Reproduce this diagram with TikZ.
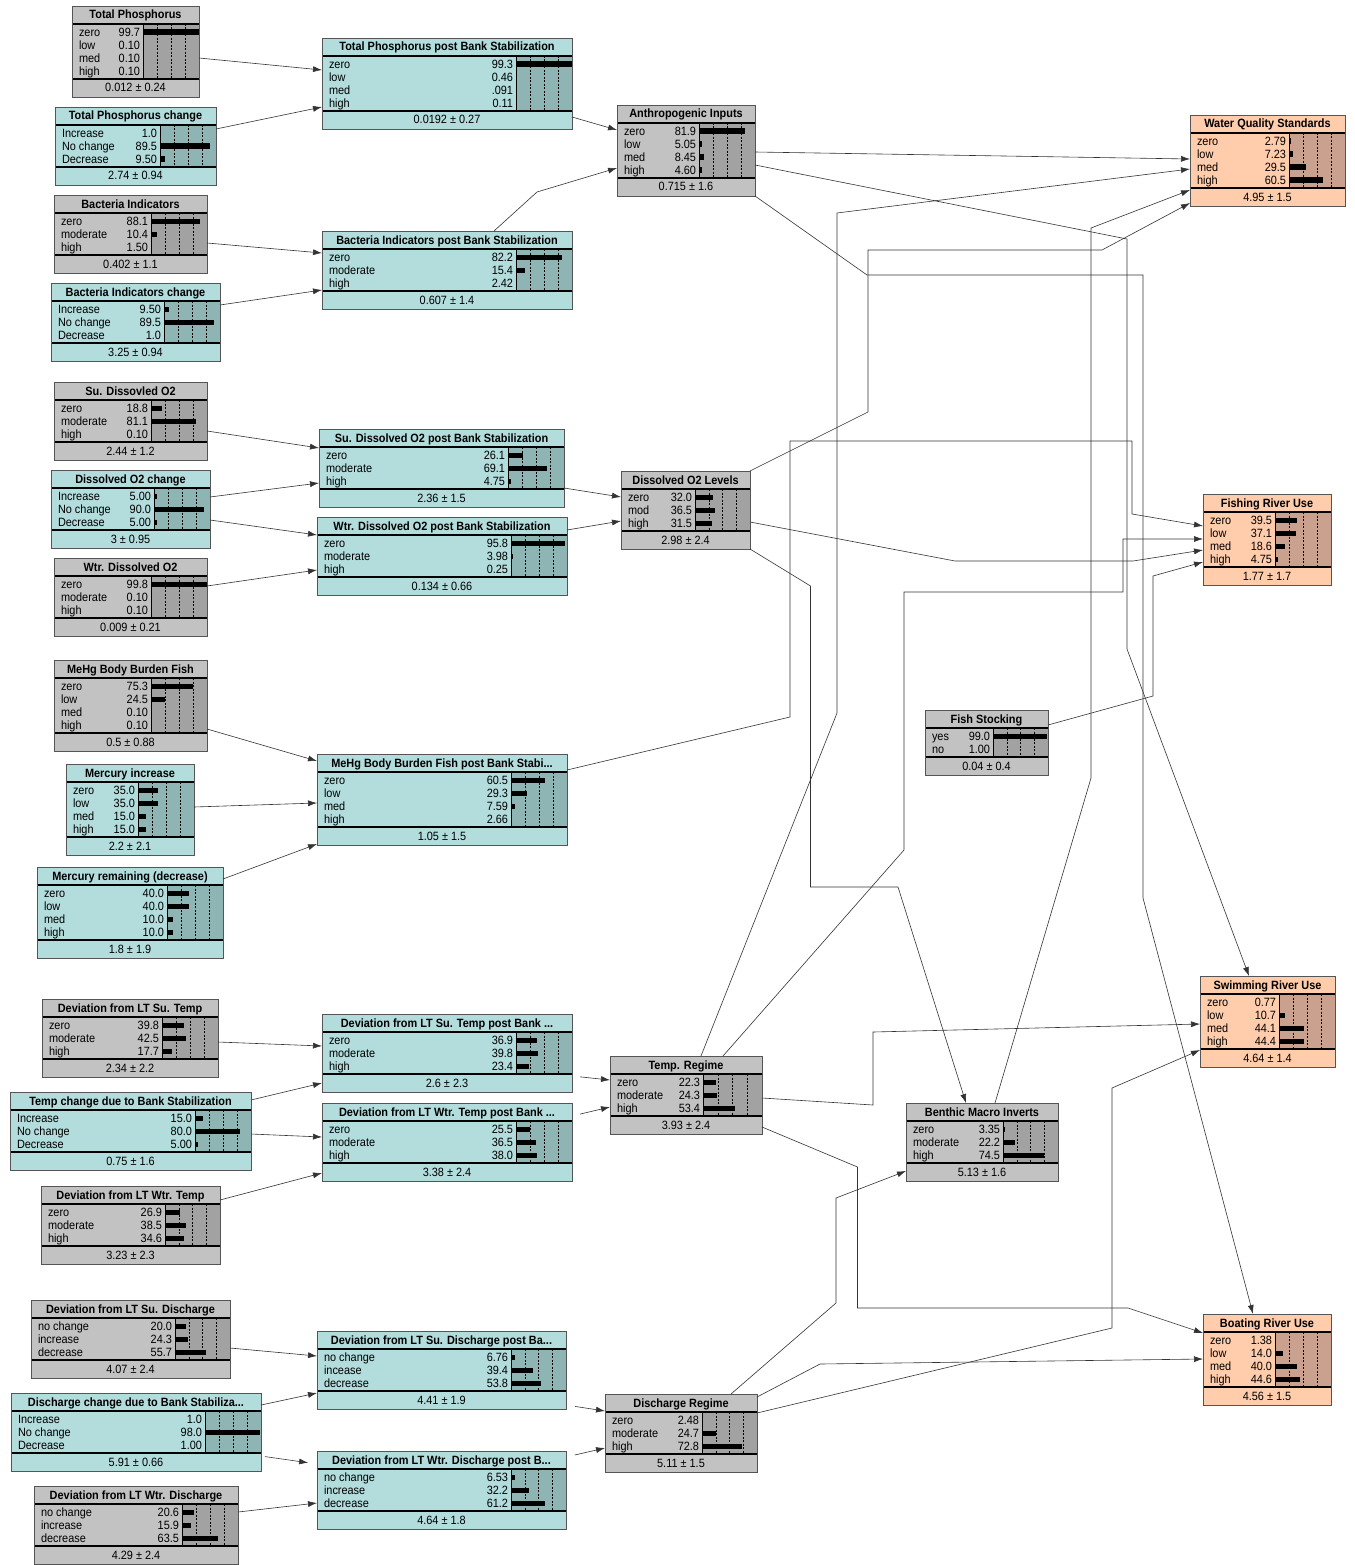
\documentclass[tikz,border=0pt]{standalone}
\usepackage{fontspec}
\setmainfont[FakeStretch=0.91]{Liberation Sans}
\usetikzlibrary{arrows.meta,calc}

\definecolor{gbase}{HTML}{C2C2C2}
\definecolor{gdark}{HTML}{A2A2A2}
\definecolor{tbase}{HTML}{B3DCDC}
\definecolor{tdark}{HTML}{8FB4B4}
\definecolor{sbase}{HTML}{FFCCAC}
\definecolor{sdark}{HTML}{C9A18E}
\definecolor{bxframe}{HTML}{555555}

\tikzset{
  arr/.style={draw=black!80, line width=0.6pt, -{Latex[length=9pt,width=6pt]}},
  dashln/.style={black, line width=0.5pt, dash pattern=on 2pt off 1.5pt},
  every node/.style={font=\fontsize{12}{13}\selectfont, inner sep=0pt, outer sep=0pt},
}

\newcount\bnrows
% #1 name #2 x0 #3 y0 #4 x1 #5 bar-left #6 scheme #7 title #8 mean #9 rows
\newcommand{\bnode}[9]{%
  \global\bnrows=0
  \foreach \z in {#9}{\global\advance\bnrows by 1}
  \pgfmathsetmacro{\yTl}{#3+18}
  \pgfmathsetmacro{\yTb}{#3+21+13*\the\bnrows}
  \pgfmathsetmacro{\yBt}{\yTb+18}
  \pgfmathsetmacro{\bW}{#4-#2}
  \pgfmathsetmacro{\bH}{\yBt-#3}
  \pgfmathsetmacro{\xM}{(#2+#4)/2}
  \fill[#6base] (#2,#3) rectangle (#4,\yBt);
  \fill[#6dark] (#5,\yTl) rectangle (#4,\yTb);
  \foreach \f in {0.25,0.5,0.75}{
    \draw[dashln] ({#5+\f*(#4-#5)},\yTl) -- ({#5+\f*(#4-#5)},\yTb);}
  \draw[black, line width=0.5pt] (#5,\yTl) -- (#5,\yTb);
  \draw[black, line width=1.4pt] (#2,\yTl) -- (#4,\yTl) (#2,\yTb) -- (#4,\yTb);
  \node[anchor=base, font=\fontsize{12}{13}\selectfont\bfseries] at (\xM,\yTl-5) {#7};
  \node[anchor=base] at (\xM,\yBt-5) {#8};
  \foreach \lbl/\val/\num [count=\i] in {#9}{
    \pgfmathsetmacro{\yR}{\yTl+8+13*(\i-1)}
    \node[anchor=base west] at (#2+7,\yR+4.5) {\lbl};
    \node[anchor=base east] at (#5-3,\yR+4.5) {\val};
    \fill[black] (#5,\yR-2.5) rectangle ({#5+\num/100*(#4-#5)},\yR+3);
  }
  \node[draw=bxframe, line width=0.7pt, minimum width=\bW pt, minimum height=\bH pt, anchor=north west] (#1) at (#2,#3) {};
}

\begin{document}
\begin{tikzpicture}[x=1pt,y=-1pt]
\useasboundingbox (0,0) rectangle (1354,1565);
\fill[white] (0,0) rectangle (1354,1565);

% ---- left column ----
\bnode{TP}{72}{6}{199}{143}{g}{Total Phosphorus}{0.012 ± 0.24}{zero/99.7/99.7, low/0.10/0.10, med/0.10/0.10, high/0.10/0.10}
\bnode{TPc}{55}{107}{216}{160}{t}{Total Phosphorus change}{2.74 ± 0.94}{Increase/1.0/1.0, No change/89.5/89.5, Decrease/9.50/9.50}
\bnode{BI}{54}{195}{207}{151}{g}{Bacteria Indicators}{0.402 ± 1.1}{zero/88.1/88.1, moderate/10.4/10.4, high/1.50/1.50}
\bnode{BIc}{51}{283}{220}{164}{t}{Bacteria Indicators change}{3.25 ± 0.94}{Increase/9.50/9.50, No change/89.5/89.5, Decrease/1.0/1.0}
\bnode{SDO}{54}{382}{207}{151}{g}{Su. Dissovled O2}{2.44 ± 1.2}{zero/18.8/18.8, moderate/81.1/81.1, high/0.10/0.10}
\bnode{DOc}{51}{470}{210}{154}{t}{Dissolved O2 change}{3 ± 0.95}{Increase/5.00/5.00, No change/90.0/90.0, Decrease/5.00/5.00}
\bnode{WDO}{54}{558}{207}{151}{g}{Wtr. Dissolved O2}{0.009 ± 0.21}{zero/99.8/99.8, moderate/0.10/0.10, high/0.10/0.10}
\bnode{MeHg}{54}{660}{207}{151}{g}{MeHg Body Burden Fish}{0.5 ± 0.88}{zero/75.3/75.3, low/24.5/24.5, med/0.10/0.10, high/0.10/0.10}
\bnode{Hgi}{66}{764}{194}{138}{t}{Mercury increase}{2.2 ± 2.1}{zero/35.0/35.0, low/35.0/35.0, med/15.0/15.0, high/15.0/15.0}
\bnode{Hgr}{37}{867}{223}{167}{t}{Mercury remaining (decrease)}{1.8 ± 1.9}{zero/40.0/40.0, low/40.0/40.0, med/10.0/10.0, high/10.0/10.0}
\bnode{DST}{42}{999}{218}{162}{g}{Deviation from LT Su. Temp}{2.34 ± 2.2}{zero/39.8/39.8, moderate/42.5/42.5, high/17.7/17.7}
\bnode{TC}{10}{1092}{251}{195}{t}{Temp change due to Bank Stabilization}{0.75 ± 1.6}{Increase/15.0/15.0, No change/80.0/80.0, Decrease/5.00/5.00}
\bnode{DWT}{41}{1186}{220}{165}{g}{Deviation from LT Wtr. Temp}{3.23 ± 2.3}{zero/26.9/26.9, moderate/38.5/38.5, high/34.6/34.6}
\bnode{DSD}{31}{1300}{230}{175}{g}{Deviation from LT Su. Discharge}{4.07 ± 2.4}{no change/20.0/20.0, increase/24.3/24.3, decrease/55.7/55.7}
\bnode{DC}{11}{1393}{261}{205}{t}{Discharge change due to Bank Stabiliza...}{5.91 ± 0.66}{Increase/1.0/1.0, No change/98.0/98.0, Decrease/1.00/1.00}
\bnode{DWD}{34}{1486}{238}{182}{g}{Deviation from LT Wtr. Discharge}{4.29 ± 2.4}{no change/20.6/20.6, increase/15.9/15.9, decrease/63.5/63.5}

% ---- middle column ----
\bnode{TPp}{322}{38}{572}{516}{t}{Total Phosphorus post Bank Stabilization}{0.0192 ± 0.27}{zero/99.3/99.3, low/0.46/0.46, med/.091/0.091, high/0.11/0.11}
\bnode{BIp}{322}{231}{572}{516}{t}{Bacteria Indicators post Bank Stabilization}{0.607 ± 1.4}{zero/82.2/82.2, moderate/15.4/15.4, high/2.42/2.42}
\bnode{SDOp}{319}{429}{564}{508}{t}{Su. Dissolved O2 post Bank Stabilization}{2.36 ± 1.5}{zero/26.1/26.1, moderate/69.1/69.1, high/4.75/4.75}
\bnode{WDOp}{317}{517}{567}{511}{t}{Wtr. Dissolved O2 post Bank Stabilization}{0.134 ± 0.66}{zero/95.8/95.8, moderate/3.98/3.98, high/0.25/0.25}
\bnode{MeHgp}{317}{754}{567}{511}{t}{MeHg Body Burden Fish post Bank Stabi...}{1.05 ± 1.5}{zero/60.5/60.5, low/29.3/29.3, med/7.59/7.59, high/2.66/2.66}
\bnode{STp}{322}{1014}{572}{516}{t}{Deviation from LT Su. Temp post Bank ...}{2.6 ± 2.3}{zero/36.9/36.9, moderate/39.8/39.8, high/23.4/23.4}
\bnode{WTp}{322}{1103}{572}{516}{t}{Deviation from LT Wtr. Temp post Bank ...}{3.38 ± 2.4}{zero/25.5/25.5, moderate/36.5/36.5, high/38.0/38.0}
\bnode{SDp}{317}{1331}{566}{511}{t}{Deviation from LT Su. Discharge post Ba...}{4.41 ± 1.9}{no change/6.76/6.76, incease/39.4/39.4, decrease/53.8/53.8}
\bnode{WDp}{317}{1451}{566}{511}{t}{Deviation from LT Wtr. Discharge post B...}{4.64 ± 1.8}{no change/6.53/6.53, increase/32.2/32.2, decrease/61.2/61.2}

% ---- regimes ----
\bnode{AI}{617}{105}{755}{699}{g}{Anthropogenic Inputs}{0.715 ± 1.6}{zero/81.9/81.9, low/5.05/5.05, med/8.45/8.45, high/4.60/4.60}
\bnode{DOL}{621}{471}{750}{695}{g}{Dissolved O2 Levels}{2.98 ± 2.4}{zero/32.0/32.0, mod/36.5/36.5, high/31.5/31.5}
\bnode{TR}{610}{1056}{762}{703}{g}{Temp. Regime}{3.93 ± 2.4}{zero/22.3/22.3, moderate/24.3/24.3, high/53.4/53.4}
\bnode{DR}{605}{1394}{757}{702}{g}{Discharge Regime}{5.11 ± 1.5}{zero/2.48/2.48, moderate/24.7/24.7, high/72.8/72.8}
\bnode{FS}{925}{710}{1048}{993}{g}{Fish Stocking}{0.04 ± 0.4}{yes/99.0/99.0, no/1.00/1.00}
\bnode{BMI}{906}{1103}{1058}{1003}{g}{Benthic Macro Inverts}{5.13 ± 1.6}{zero/3.35/3.35, moderate/22.2/22.2, high/74.5/74.5}

% ---- uses ----
\bnode{WQS}{1190}{115}{1345}{1289}{s}{Water Quality Standards}{4.95 ± 1.5}{zero/2.79/2.79, low/7.23/7.23, med/29.5/29.5, high/60.5/60.5}
\bnode{FRU}{1203}{494}{1331}{1275}{s}{Fishing River Use}{1.77 ± 1.7}{zero/39.5/39.5, low/37.1/37.1, med/18.6/18.6, high/4.75/4.75}
\bnode{SRU}{1200}{976}{1335}{1279}{s}{Swimming River Use}{4.64 ± 1.4}{zero/0.77/0.77, low/10.7/10.7, med/44.1/44.1, high/44.4/44.4}
\bnode{BRU}{1203}{1314}{1331}{1275}{s}{Boating River Use}{4.56 ± 1.5}{zero/1.38/1.38, low/14.0/14.0, med/40.0/40.0, high/44.6/44.6}

% ---- connectors ----
\draw[arr] (TP.east |- 0,58) -- (TPp.west |- 0,70);
\draw[arr] (TPc.east |- 0,129) -- (TPp.west |- 0,107);
\draw[arr] (BI.east |- 0,243) -- (BIp.west |- 0,253);
\draw[arr] (BIc.east |- 0,305) -- (BIp.west |- 0,290);
\draw[arr] (TPp.east |- 0,117) -- (AI.west |- 0,130);
\draw[arr] (BIp.north -| 494,0) -- (537,192) -- (AI.west |- 0,168);

\draw[arr] (SDO.east |- 0,431) -- (SDOp.west |- 0,448);
\draw[arr] (DOc.east |- 0,497) -- (SDOp.west |- 0,483);
\draw[arr] (DOc.east |- 0,520) -- (WDOp.west |- 0,535);
\draw[arr] (WDO.east |- 0,586) -- (WDOp.west |- 0,570);
\draw[arr] (SDOp.east |- 0,488) -- (DOL.west |- 0,497);
\draw[arr] (WDOp.east |- 0,530) -- (DOL.west |- 0,521);

\draw[arr] (MeHg.east |- 0,729) -- (MeHgp.west |- 0,761);
\draw[arr] (Hgi.east |- 0,807) -- (MeHgp.west |- 0,803);
\draw[arr] (Hgr.east |- 0,879) -- (MeHgp.west |- 0,844);

\draw[arr] (DST.east |- 0,1042) -- (STp.west |- 0,1046);
\draw[arr] (TC.east |- 0,1100) -- (STp.west |- 0,1083);
\draw[arr] (TC.east |- 0,1134) -- (WTp.west |- 0,1137);
\draw[arr] (DWT.east |- 0,1200) -- (WTp.west |- 0,1173);
\draw[arr, shorten <=8pt] (STp.east |- 0,1076) -- (TR.west |- 0,1080);
\draw[arr, shorten <=8pt] (WTp.east |- 0,1116) -- (TR.west |- 0,1107);

\draw[arr] (DSD.east |- 0,1348) -- (SDp.west |- 0,1356);
\draw[arr] (DC.east |- 0,1405) -- (SDp.west |- 0,1393);
\draw[arr, shorten <=4pt, shorten >=9pt] (DC.east |- 0,1456) -- (WDp.west |- 0,1464);
\draw[arr] (DWD.east |- 0,1512) -- (WDp.west |- 0,1503);
\draw[arr, shorten <=9pt] (SDp.east |- 0,1405) -- (DR.west |- 0,1411);
\draw[arr, shorten <=9pt] (WDp.east |- 0,1457) -- (DR.west |- 0,1448);

% to Water Quality Standards
\draw[arr] (AI.east |- 0,152) -- (WQS.west |- 0,159);
\draw[arr] (TR.north -| 701,0) -- (837,713) -- (837,213) -- (WQS.west |- 0,169);
\draw[arr] (BMI.north -| 995,0) -- (1091,778) -- (1091,228) -- (WQS.west |- 0,190);
\draw[arr] (DOL.north east) -- (868,412) -- (868,250) -- (1102,250) -- (WQS.west |- 0,203);

% to Fishing River Use
\draw[arr] (MeHgp.east |- 0,770) -- (790,717) -- (790,441) -- (1132,441) -- (1132,514) -- (FRU.west |- 0,526);
\draw[arr] (TR.north -| 723,0) -- (904,850) -- (904,592) -- (1123,592) -- (1123,539) -- (FRU.west |- 0,539);
\draw[arr] (DOL.east |- 0,522) -- (955,561) -- (1133,561) -- (FRU.west |- 0,550);
\draw[arr] (FS.east |- 0,725) -- (1153,696) -- (1153,576) -- (FRU.west |- 0,562);

% to Benthic
\draw[arr] (DOL.south east) -- (810.5,586) -- (810.5,887) -- (898,887) -- (BMI.north -| 966,0);
\draw[arr] (DR.north -| 731,0) -- (836,1303) -- (836,1198) -- (BMI.west |- 0,1171);

% to Swimming River Use
\draw[arr] (AI.east |- 0,165) -- (1127,239) -- (1127,649) -- (SRU.north -| 1249,0);
\draw[arr] (TR.east |- 0,1098) -- (873,1105) -- (873,1032) -- (SRU.west |- 0,1024);
\draw[arr] (DR.east |- 0,1413) -- (1112,1328) -- (1112,1088) -- (SRU.west |- 0,1050);

% to Boating River Use
\draw[arr] (AI.south east) -- (867,275) -- (1143,275) -- (1143,898) -- (BRU.north -| 1253,0);
\draw[arr] (TR.east |- 0,1127) -- (857.5,1167) -- (857.5,1308) -- (1128,1308) -- (BRU.west |- 0,1333);
\draw[arr] (DR.east |- 0,1397) -- (820,1364) -- (BRU.west |- 0,1359);
\end{tikzpicture}
\end{document}
